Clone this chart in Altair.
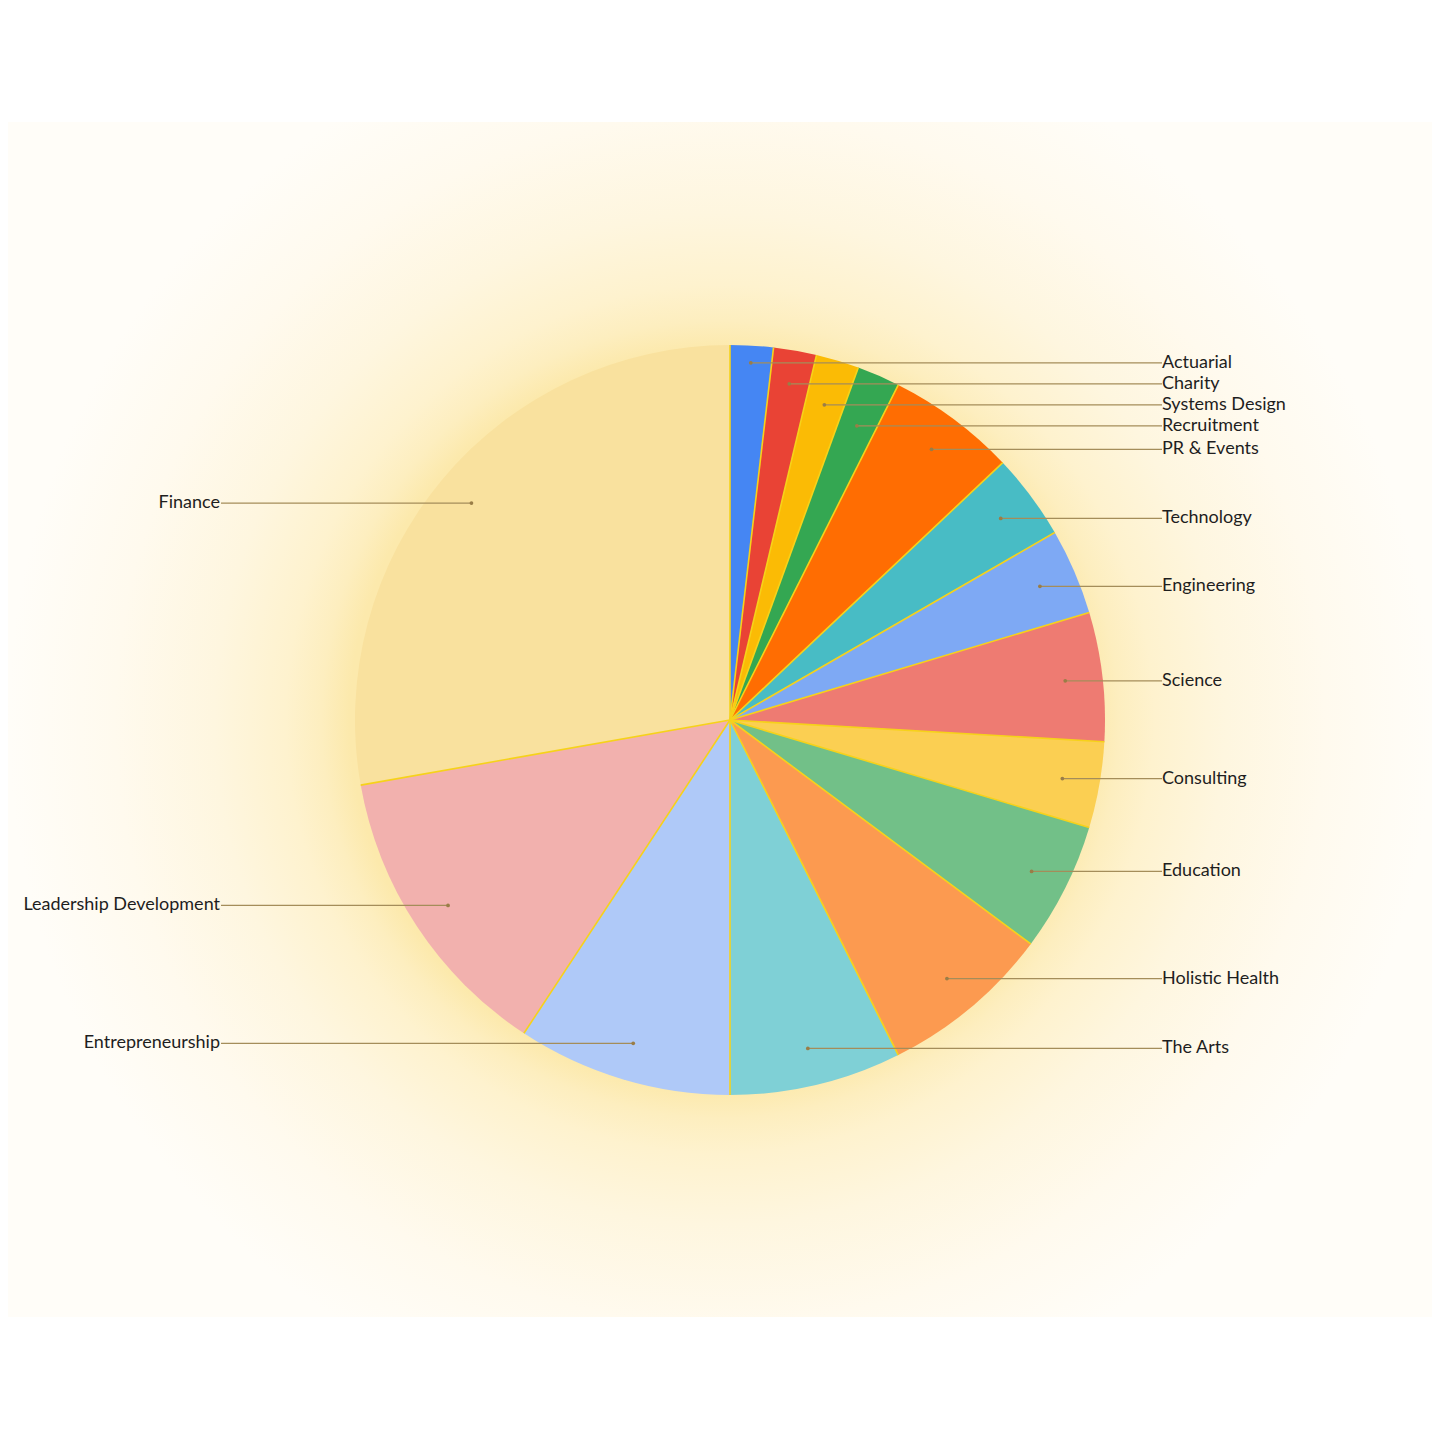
import altair as alt
import numpy as np
import pandas as pd

# ---------------- data ----------------
categories = ["Actuarial", "Charity", "Systems Design", "Recruitment", "PR & Events",
              "Technology", "Engineering", "Science", "Consulting", "Education",
              "Holistic Health", "The Arts", "Entrepreneurship", "Leadership Development",
              "Finance"]
counts = [1, 1, 1, 1, 3, 2, 2, 3, 2, 3, 4, 4, 5, 7, 15]
colors = ["#4586F3", "#E94335", "#FBBB05", "#34A752", "#FF6D02",
          "#48BCC5", "#7EA9F4", "#EE7B72", "#FBCF52", "#72C088",
          "#FC9A50", "#7FD0D6", "#AFC9F8", "#F2B1AE", "#F9E19E"]

# ---------------- layout ----------------
W = H = 1424
CX, CY, R = 722, 712, 375
DOT_FRAC = 0.9
GAP = 21
LABEL_X_RIGHT = 1154
LABEL_X_LEFT = 212
GLOW_TOP, GLOW_BOTTOM = 114, 1309

df = pd.DataFrame({"category": categories, "count": counts})
df["idx"] = range(len(df))
total = df["count"].sum()
cum = df["count"].cumsum()
start = (cum - df["count"]) / total * 2 * np.pi
end = cum / total * 2 * np.pi
df["mid"] = (start + end) / 2
df["nat_x"] = CX + DOT_FRAC * R * np.sin(df["mid"])
df["nat_y"] = CY - DOT_FRAC * R * np.cos(df["mid"])
df["side"] = np.where(np.sin(df["mid"]) > 0, "right", "left")
# slice boundaries (separator lines)
df["cx"] = CX
df["cy"] = CY
df["bx"] = CX + R * np.sin(start)
df["by"] = CY - R * np.cos(start)


def spread(ys, gap):
    groups = []
    for y in ys:
        groups.append({"nat": [y]})
        while True:
            g = groups[-1]
            n = len(g["nat"])
            g["top"] = np.mean(g["nat"]) - gap * (n - 1) / 2
            if len(groups) > 1:
                p = groups[-2]
                pbottom = p["top"] + gap * (len(p["nat"]) - 1)
                if pbottom + gap > g["top"]:
                    p["nat"] += g["nat"]
                    groups.pop()
                    continue
            break
    out = []
    for g in groups:
        for k in range(len(g["nat"])):
            out.append(g["top"] + k * gap)
    return out


df["label_y"] = df["nat_y"]
for side in ["right", "left"]:
    sub = df[df["side"] == side].sort_values("nat_y")
    df.loc[sub.index, "label_y"] = spread(list(sub["nat_y"]), GAP)

dot_x = []
for _, r in df.iterrows():
    if abs(r["label_y"] - r["nat_y"]) < 0.5:
        dot_x.append(r["nat_x"])
    else:
        t = (CY - r["label_y"]) / np.cos(r["mid"])
        dot_x.append(CX + t * np.sin(r["mid"]))
df["dot_x"] = dot_x
df["label_x"] = np.where(df["side"] == "right", LABEL_X_RIGHT, LABEL_X_LEFT)
df["line_end"] = np.where(df["side"] == "right", LABEL_X_RIGHT, LABEL_X_LEFT + 1)

xs = alt.Scale(domain=[0, W], range=[0, W])
ys = alt.Scale(domain=[0, H], range=[0, H])

glow_fill = alt.RadialGradient(
    gradient="radial",
    stops=[
        alt.GradientStop(color="#FCE9AC", offset=0.0),
        alt.GradientStop(color="#FCE9AC", offset=0.52),
        alt.GradientStop(color="#FDEEBF", offset=0.56),
        alt.GradientStop(color="#FEF2CE", offset=0.61),
        alt.GradientStop(color="#FEF6DF", offset=0.71),
        alt.GradientStop(color="#FFFAEE", offset=0.85),
        alt.GradientStop(color="#FFFDF8", offset=1.0),
    ],
    x1=0.5, y1=0.5, r1=0, x2=0.5, y2=0.5, r2=0.5,
)

one = pd.DataFrame({"a": [0]})
glow = alt.Chart(one).mark_rect(fill=glow_fill).encode(
    x=alt.value(0), x2=alt.value(W), y=alt.value(GLOW_TOP), y2=alt.value(GLOW_BOTTOM)
)

pie = alt.Chart(df).mark_arc(outerRadius=R).encode(
    theta=alt.Theta("count:Q", stack=True),
    color=alt.Color("category:N", scale=alt.Scale(domain=categories, range=colors), legend=None),
    order=alt.Order("idx:Q"),
    x=alt.value(CX),
    y=alt.value(CY),
)

separators = alt.Chart(df).mark_rule(color="#F6D21A", strokeWidth=1.6).encode(
    x=alt.X("cx:Q", scale=xs, axis=None),
    y=alt.Y("cy:Q", scale=ys, axis=None),
    x2="bx:Q",
    y2="by:Q",
)

lines = alt.Chart(df).mark_rule(color="#A48D5A", strokeWidth=1.2).encode(
    x=alt.X("dot_x:Q", scale=xs, axis=None),
    x2="line_end:Q",
    y=alt.Y("label_y:Q", scale=ys, axis=None),
)

dots = alt.Chart(df).mark_circle(color="#9A7D47", opacity=1, size=14).encode(
    x=alt.X("dot_x:Q", scale=xs, axis=None),
    y=alt.Y("label_y:Q", scale=ys, axis=None),
)

labels_r = alt.Chart(df[df["side"] == "right"]).mark_text(
    align="left", baseline="middle", font="Lato", fontSize=18, color="#1E1E1E"
).encode(
    x=alt.X("label_x:Q", scale=xs, axis=None),
    y=alt.Y("label_y:Q", scale=ys, axis=None),
    text="category:N",
)

labels_l = alt.Chart(df[df["side"] == "left"]).mark_text(
    align="right", baseline="middle", font="Lato", fontSize=18, color="#1E1E1E"
).encode(
    x=alt.X("label_x:Q", scale=xs, axis=None),
    y=alt.Y("label_y:Q", scale=ys, axis=None),
    text="category:N",
)

chart = alt.layer(glow, pie, separators, lines, dots, labels_r, labels_l).properties(
    width=W, height=H, padding=0, autosize=alt.AutoSizeParams(type="none"),
    background="white",
).configure_view(stroke=None)

chart.save("out.html", embed_options={"renderer": "svg", "actions": False})
